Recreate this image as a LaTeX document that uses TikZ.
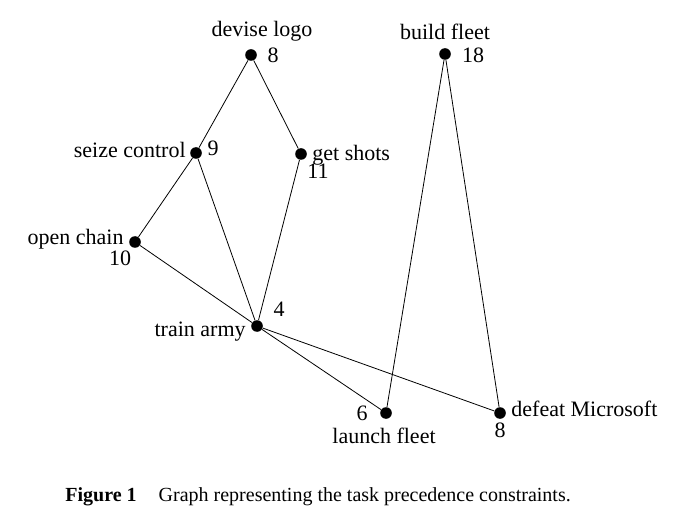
\documentclass[tikz,border=0pt]{standalone}
\usepackage{fontspec}
\setmainfont{Liberation Serif}
\begin{document}
\begin{tikzpicture}[x=0.5pt, y=-0.5pt, every node/.style={font=\fontsize{11}{13}\selectfont, inner sep=0pt}]
        \useasboundingbox (0,0) rectangle (678,523);
        \tikzset{task/.style={circle, fill=black, minimum size=5.8pt, inner sep=0pt},
                 link/.style={line width=0.4pt, black}}

        % --- TASKS ---
        \foreach \name/\x/\y in {devise/251/55, seize/196/153, shots/301/154, chain/135/242,
                                 army/257/326, launch/386/413, defeat/500/413, build/445/54} {
            \node[task] (\name) at (\x, \y) {};
        }

        % --- NAMES AND DURATIONS ---
        \node (devisename) at (262, 31) {devise logo};
        \node (devisetime) at (273, 55) {8};
        \node[anchor=east] (seizename) at (186, 150) {seize control};
        \node (seizetime) at (213, 148) {9};
        \node[anchor=west] (shotsname) at (312, 155) {get shots};
        \node (shotstime) at (318, 171) {11};
        \node[anchor=east] (chainname) at (124, 239) {open chain};
        \node (chaintime) at (120, 258) {10};
        \node[anchor=east] (armyname) at (246, 332) {train army};
        \node (armytime) at (279, 309) {4};
        \node (launchtime) at (362, 413) {6};
        \node (launchname) at (384, 436) {launch fleet};
        \node[anchor=west] (defeatname) at (511, 409) {defeat Microsoft};
        \node (defeattime) at (500, 430) {8};
        \node (buildname) at (445, 32) {build fleet};
        \node (buildtime) at (473, 55) {18};

        % --- PRECEDENCE ---
        \foreach \a/\b in {devise/seize, devise/shots, seize/chain, seize/army, shots/army,
                           chain/army, army/launch, army/defeat, build/launch, build/defeat} {
            \draw[link] (\a) -- (\b);
        }

        % Caption
        \node[anchor=west, font=\fontsize{10}{12}\selectfont] (caption) at (65, 497)
            {\textbf{Figure 1}\hspace{11pt}Graph representing the task precedence constraints.};

    \end{tikzpicture}
\end{document}
